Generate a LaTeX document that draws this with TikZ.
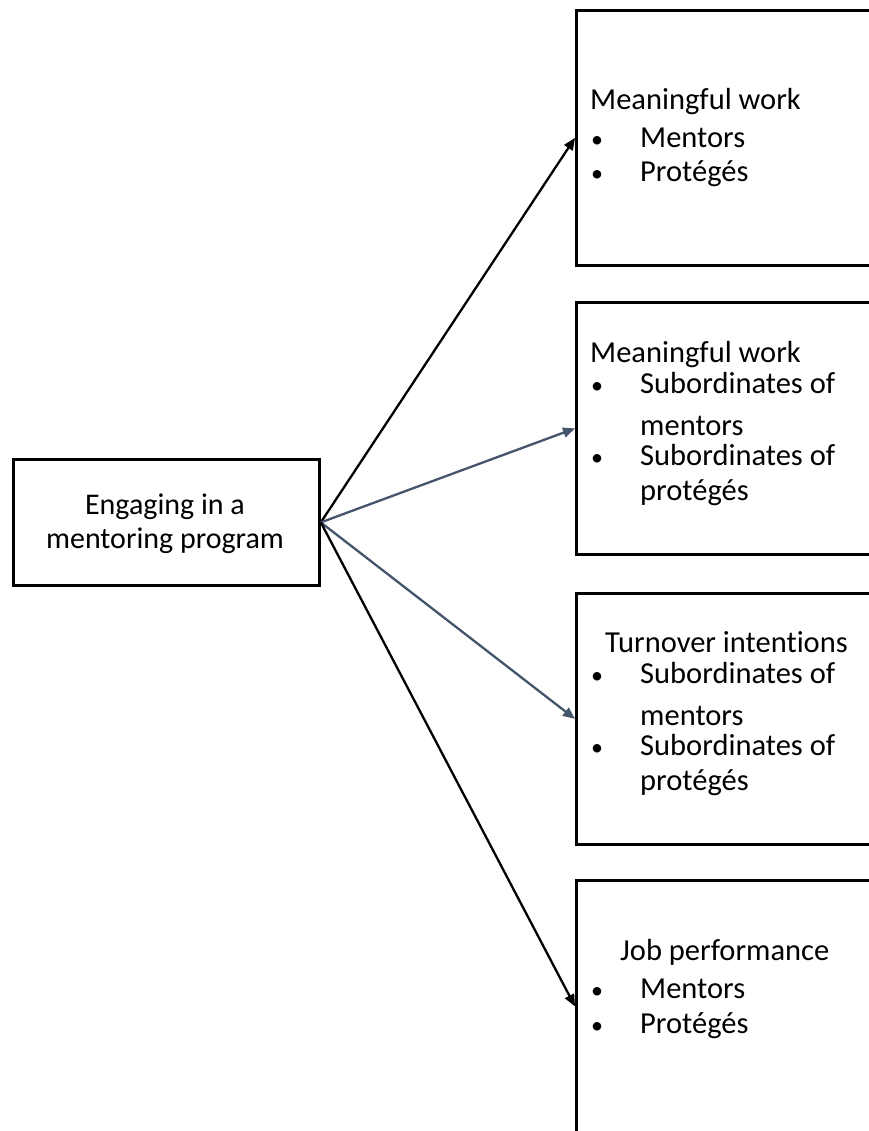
\documentclass[tikz,border=0pt]{standalone}
\usepackage{fontspec}
\setmainfont{Carlito}[Ligatures=NoCommon]
\usetikzlibrary{arrows.meta}
\definecolor{arrowblue}{HTML}{44546A}
\tikzset{
  box/.style={draw=black, line width=2.8pt, inner sep=0pt, anchor=north west},
  txt/.style={anchor=base west, inner sep=0pt, font=\fontsize{30.5}{36}\selectfont},
  bul/.style={anchor=base west, inner sep=0pt, font=\fontsize{24}{36}\selectfont},
  ctxt/.style={anchor=base, inner sep=0pt, font=\fontsize{30}{36}\selectfont},
  conn/.style={line width=2.3pt, -{Triangle[length=12pt,width=10pt]}},
}
\begin{document}
\begin{tikzpicture}[x=1pt,y=-1pt]
\useasboundingbox (0,0) rectangle (868,1131);
% boxes
\node[box, minimum width=306pt, minimum height=126pt] (src) at (12,458) {};
\node[box, minimum width=300pt, minimum height=255pt] (b1) at (575,9) {};
\node[box, minimum width=300pt, minimum height=252pt] (b2) at (575,301) {};
\node[box, minimum width=300pt, minimum height=251pt] (b3) at (575,592) {};
\node[box, minimum width=300pt, minimum height=252pt] (b4) at (575,879) {};
% source text
\node[ctxt] (s1) at (165,514) {Engaging in a};
\node[ctxt] (s2) at (165,548) {mentoring program};
% box 1
\node[txt] (t1) at (590,110) {Meaningful work};
\node[bul] (t1a) at (591,148) {\textbullet};
\node[txt] (t1b) at (640,148) {Mentors};
\node[bul] (t1c) at (591,182) {\textbullet};
\node[txt] (t1d) at (640,182) {Protégés};
% box 2
\node[txt] (t2) at (590,362) {Meaningful work};
\node[bul] (t2a) at (591,393) {\textbullet};
\node[txt] (t2b) at (640,393) {Subordinates of};
\node[txt] (t2c) at (640,435) {mentors};
\node[bul] (t2d) at (591,465) {\textbullet};
\node[txt] (t2e) at (640,465) {Subordinates of};
\node[txt] (t2f) at (640,500) {protégés};
% box 3
\node[txt] (t3) at (605,652) {Turnover intentions};
\node[bul] (t3a) at (591,683) {\textbullet};
\node[txt] (t3b) at (640,683) {Subordinates of};
\node[txt] (t3c) at (640,725) {mentors};
\node[bul] (t3d) at (591,755) {\textbullet};
\node[txt] (t3e) at (640,755) {Subordinates of};
\node[txt] (t3f) at (640,790) {protégés};
% box 4
\node[txt] (t4) at (620,960) {Job performance};
\node[bul] (t4a) at (591,998) {\textbullet};
\node[txt] (t4b) at (640,998) {Mentors};
\node[bul] (t4c) at (591,1033) {\textbullet};
\node[txt] (t4d) at (640,1033) {Protégés};
% connectors
\draw[conn, black] (src.east) -- (b1.west);
\draw[conn, arrowblue] (src.east) -- (b2.west);
\draw[conn, arrowblue] (src.east) -- (b3.west);
\draw[conn, black] (src.east) -- (b4.west);
\end{tikzpicture}
\end{document}
